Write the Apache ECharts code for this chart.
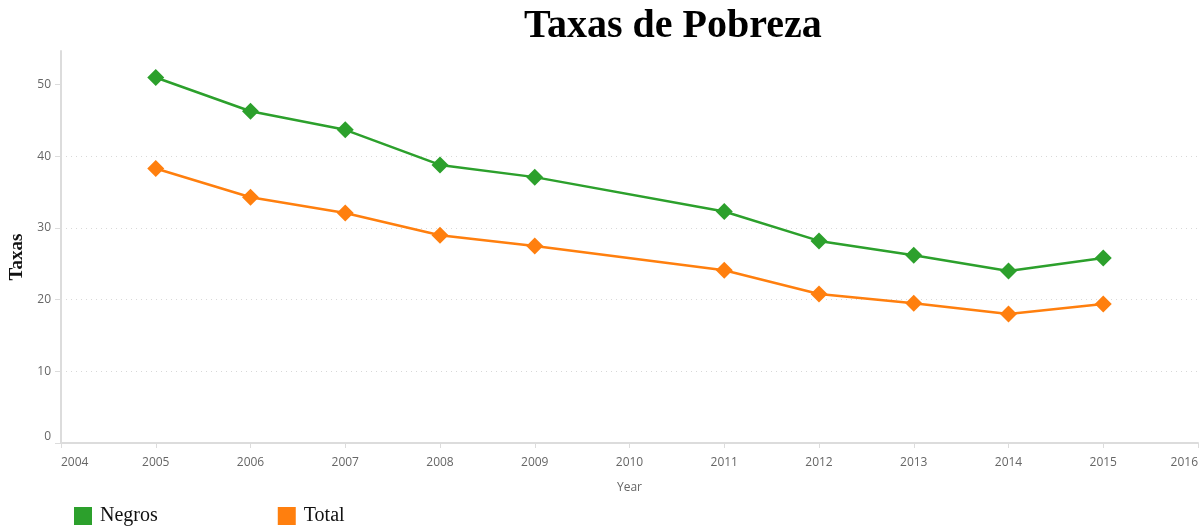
<!DOCTYPE html>
<html lang="pt">
<head>
    <meta charset="UTF-8" />
    <title>Taxas de Pobreza</title>
    <script src="https://cdn.jsdelivr.net/npm/echarts@6/dist/echarts.min.js"></script>
</head>
<body style="margin:0">
    <div id="chart" style="width:1203px;height:532px;"></div>
    <script type="text/javascript">
        // dados
        var years = [2005, 2006, 2007, 2008, 2009, 2011, 2012, 2013, 2014, 2015];
        var negros = [51.0, 46.3, 43.7, 38.8, 37.1, 32.3, 28.2, 26.2, 24.0, 25.8];
        var total = [38.3, 34.3, 32.1, 29.0, 27.5, 24.1, 20.8, 19.5, 18.0, 19.4];
        var yTicks = [0, 10, 20, 30, 40, 50];

        function pairs(vals) {
            return years.map(function (y, i) { return [y, vals[i]]; });
        }

        var chart = echarts.init(document.getElementById('chart'));
        var option = {
            animation: false,
            title: {
                text: 'Taxas de Pobreza',
                left: 519,
                top: 2,
                textStyle: {
                    fontFamily: 'Liberation Serif',
                    fontWeight: 'bold',
                    fontSize: 40,
                    color: '#000'
                }
            },
            legend: {
                left: 74,
                top: 506,
                padding: 0,
                icon: 'rect',
                itemWidth: 18,
                itemHeight: 18,
                itemGap: 120,
                data: ['Negros', 'Total'],
                textStyle: {
                    fontFamily: 'Liberation Serif',
                    fontSize: 20,
                    color: '#111',
                    padding: [0, 0, 12, 3]
                }
            },
            grid: {
                left: 61,
                right: 5,
                top: 51,
                bottom: 89,
                outerBoundsMode: 'none'
            },
            xAxis: {
                type: 'value',
                min: 2004,
                max: 2016,
                interval: 1,
                name: 'Year',
                nameLocation: 'middle',
                nameGap: 39,
                nameTextStyle: { fontFamily: 'Open Sans', fontSize: 12, color: '#666' },
                axisLine: { lineStyle: { color: '#dcdcdc', width: 2 } },
                axisTick: { show: true, length: 5, lineStyle: { color: '#dcdcdc' } },
                axisLabel: {
                    fontFamily: 'Open Sans',
                    fontSize: 12,
                    color: '#666',
                    margin: 14,
                    alignMinLabel: 'left',
                    alignMaxLabel: 'right',
                    formatter: function (v) { return String(v); }
                },
                splitLine: { show: false }
            },
            yAxis: {
                type: 'value',
                min: 0,
                max: 54.7,
                interval: 10,
                name: 'Taxas',
                nameLocation: 'middle',
                nameGap: 31,
                nameTextStyle: {
                    fontFamily: 'Liberation Serif',
                    fontWeight: 'bold',
                    fontSize: 19,
                    color: '#111',
                    padding: [0, 20, 0, 0]
                },
                axisLine: { show: true, lineStyle: { color: '#dcdcdc', width: 2 } },
                axisTick: { show: true, length: 6, customValues: yTicks, lineStyle: { color: '#dcdcdc' } },
                axisLabel: {
                    fontFamily: 'Open Sans',
                    fontSize: 12,
                    color: '#666',
                    margin: 10,
                    customValues: yTicks,
                    verticalAlignMinLabel: 'bottom'
                },
                splitLine: {
                    show: true,
                    showMinLine: false,
                    showMaxLine: false,
                    lineStyle: { color: '#d8d8d8', type: [1, 4] }
                }
            },
            series: [{
                name: 'Negros',
                type: 'line',
                data: pairs(negros),
                symbol: 'diamond',
                symbolSize: 17,
                lineStyle: { width: 2.5, color: '#2ca02c' },
                itemStyle: { color: '#2ca02c' }
            }, {
                name: 'Total',
                type: 'line',
                data: pairs(total),
                symbol: 'diamond',
                symbolSize: 17,
                lineStyle: { width: 2.5, color: '#ff7f0e' },
                itemStyle: { color: '#ff7f0e' }
            }]
        };
        chart.setOption(option, true);
    </script>
</body>
</html>
